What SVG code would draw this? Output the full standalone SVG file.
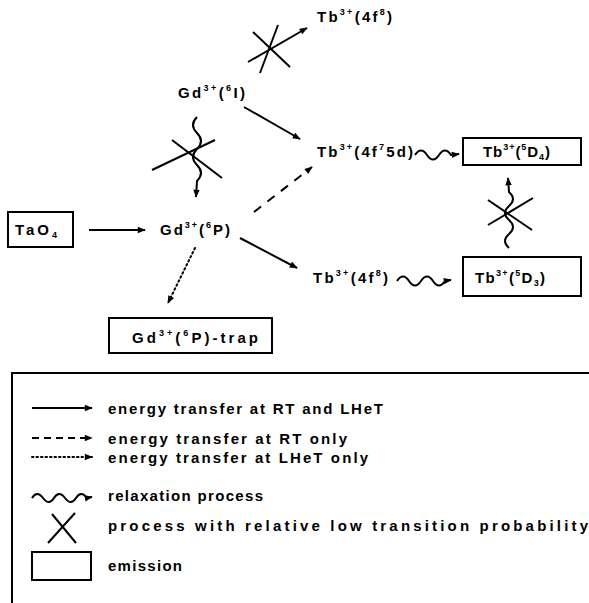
<svg xmlns="http://www.w3.org/2000/svg" width="589" height="603" viewBox="0 0 589 603">
<defs>
<style>
text{font-family:"Liberation Sans","DejaVu Sans",sans-serif;font-size:15px;font-weight:bold;fill:#000;}
.sup{font-size:9px;}
.ln{stroke:#000;stroke-width:2;fill:none;}
.box{stroke:#000;stroke-width:2;fill:#fff;}
.dash{stroke-dasharray:9,8;}
.dot{stroke-dasharray:1.5,3;stroke-linecap:round;}
</style>
<marker id="ah" viewBox="0 0 10 10" refX="9" refY="5" markerWidth="9" markerHeight="8" markerUnits="userSpaceOnUse" orient="auto">
<path d="M0,1 L10,5 L0,9 z" fill="#000"/>
</marker>
</defs>
<rect width="589" height="603" fill="#fff"/>

<g id="connectors">
<line class="ln" x1="89" y1="230" x2="145" y2="230" marker-end="url(#ah)"/>
<line class="ln" x1="248" y1="62" x2="307" y2="28" marker-end="url(#ah)"/>
<line class="ln" x1="253" y1="32" x2="290" y2="67"/>
<line class="ln" x1="260" y1="73" x2="278" y2="25"/>
<line class="ln" x1="244" y1="107" x2="300" y2="139" marker-end="url(#ah)"/>
<line class="ln dash" x1="254" y1="212" x2="312" y2="167" marker-end="url(#ah)"/>
<line class="ln" x1="240" y1="238" x2="297" y2="268" marker-end="url(#ah)"/>
<line class="ln dot" x1="195" y1="248" x2="168" y2="303" marker-end="url(#ah)"/>
<path class="ln" d="M415,155 q6,-9 12,0 t12,0 t12,0 l8,-1" marker-end="url(#ah)"/>
<path class="ln" d="M397,281 q6,-9 12,0 t12,0 t12,0 t12,0 l6,-1" marker-end="url(#ah)"/>
<path class="ln" d="M509,248 q-8,-7 0,-14 t0,-14 t0,-14 t0,-14 l-1,-14" marker-end="url(#ah)"/>
<line class="ln" x1="488" y1="200" x2="532" y2="230"/>
<line class="ln" x1="488" y1="225" x2="533" y2="198"/>
<path class="ln" d="M197,117 q-8,8 0,16 t0,16 t0,16 t0,16 l-1,16" marker-end="url(#ah)"/>
<line class="ln" x1="152" y1="170" x2="215" y2="140"/>
<line class="ln" x1="172" y1="140" x2="222" y2="178"/>
</g>

<g id="node-tao4">
<rect class="box" x="8" y="212" width="65" height="35"/>
<text x="15" y="235" textLength="42" lengthAdjust="spacing">TaO<tspan class="sup" dy="3">4</tspan></text>
</g>
<g id="node-gd6p">
<text x="160" y="235" textLength="70" lengthAdjust="spacing">Gd<tspan class="sup" dy="-7">3+</tspan><tspan dy="7">(</tspan><tspan class="sup" dy="-7">6</tspan><tspan dy="7">P)</tspan></text>
</g>
<g id="node-gd6i">
<text x="178" y="98" textLength="67" lengthAdjust="spacing">Gd<tspan class="sup" dy="-7">3+</tspan><tspan dy="7">(</tspan><tspan class="sup" dy="-7">6</tspan><tspan dy="7">I)</tspan></text>
</g>
<g id="node-tb4f8-top">
<text x="317" y="22" textLength="75" lengthAdjust="spacing">Tb<tspan class="sup" dy="-7">3+</tspan><tspan dy="7">(4f</tspan><tspan class="sup" dy="-7">8</tspan><tspan dy="7">)</tspan></text>
</g>
<g id="node-tb4f75d">
<text x="317" y="157" textLength="96" lengthAdjust="spacing">Tb<tspan class="sup" dy="-7">3+</tspan><tspan dy="7">(4f</tspan><tspan class="sup" dy="-7">7</tspan><tspan dy="7">5d)</tspan></text>
</g>
<g id="node-tb4f8">
<text x="313" y="283" textLength="75" lengthAdjust="spacing">Tb<tspan class="sup" dy="-7">3+</tspan><tspan dy="7">(4f</tspan><tspan class="sup" dy="-7">8</tspan><tspan dy="7">)</tspan></text>
</g>
<g id="node-tb5d4">
<rect class="box" x="463" y="138" width="118" height="27"/>
<text x="483" y="157" textLength="67" lengthAdjust="spacing">Tb<tspan class="sup" dy="-7">3+</tspan><tspan dy="7">(</tspan><tspan class="sup" dy="-7">5</tspan><tspan dy="7">D</tspan><tspan class="sup" dy="3">4</tspan><tspan dy="-3">)</tspan></text>
</g>
<g id="node-tb5d3">
<rect class="box" x="463" y="257" width="118" height="39"/>
<text x="475" y="283" textLength="70" lengthAdjust="spacing">Tb<tspan class="sup" dy="-7">3+</tspan><tspan dy="7">(</tspan><tspan class="sup" dy="-7">5</tspan><tspan dy="7">D</tspan><tspan class="sup" dy="3">3</tspan><tspan dy="-3">)</tspan></text>
</g>
<g id="node-trap">
<rect class="box" x="109" y="318" width="163" height="35"/>
<text x="132" y="343" textLength="126" lengthAdjust="spacing">Gd<tspan class="sup" dy="-7">3+</tspan><tspan dy="7">(</tspan><tspan class="sup" dy="-7">6</tspan><tspan dy="7">P)-trap</tspan></text>
</g>

<g id="legend">
<path class="ln" d="M12,603 V373 H589"/>
<line class="ln" x1="32" y1="408" x2="92" y2="408" marker-end="url(#ah)"/>
<text x="108" y="414" textLength="275" lengthAdjust="spacing">energy transfer at RT and LHeT</text>
<line class="ln" x1="32" y1="438" x2="92" y2="438" stroke-dasharray="7,5" marker-end="url(#ah)"/>
<text x="108" y="444" textLength="239" lengthAdjust="spacing">energy transfer at RT only</text>
<line class="ln dot" x1="32" y1="457" x2="92" y2="457" marker-end="url(#ah)"/>
<text x="108" y="463" textLength="260" lengthAdjust="spacing">energy transfer at LHeT only</text>
<path class="ln" d="M32,498 q5,-8 11,0 t11,0 t11,0 t11,0 t11,0 l5,-1" marker-end="url(#ah)"/>
<text x="108" y="501" textLength="155" lengthAdjust="spacing">relaxation process</text>
<line class="ln" x1="48" y1="543" x2="75" y2="513"/>
<line class="ln" x1="52" y1="514" x2="76" y2="543"/>
<text x="108" y="531" textLength="480" lengthAdjust="spacing">process with relative low transition probability</text>
<rect class="ln" x="32" y="552" width="59" height="28"/>
<text x="108" y="571" textLength="74" lengthAdjust="spacing">emission</text>
</g>
</svg>
